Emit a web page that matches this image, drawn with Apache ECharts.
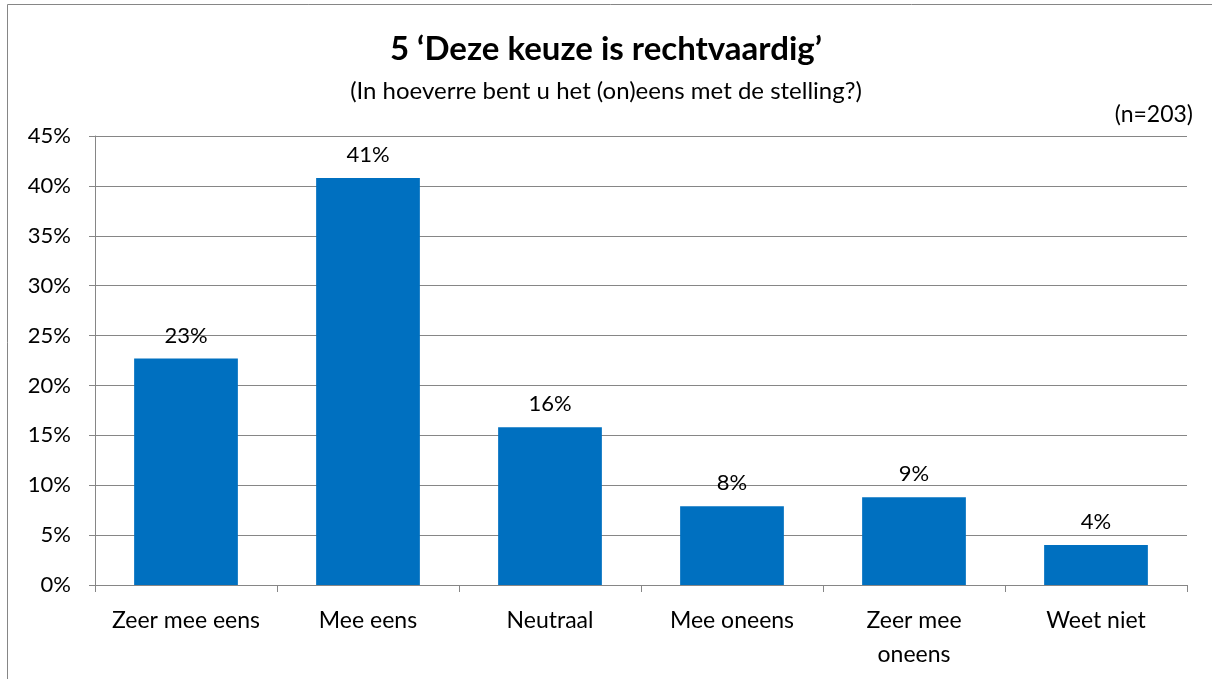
<!DOCTYPE html>
<html>
<head>
<meta charset="utf-8">
<script src="https://cdn.jsdelivr.net/npm/echarts@6/dist/echarts.min.js"></script>
<style>
  html, body { margin: 0; padding: 0; background: #fff; }
  #chart { width: 1212px; height: 679px; }
</style>
</head>
<body>
<div id="chart"></div>
<script>
var categories = ["Zeer mee eens", "Mee eens", "Neutraal", "Mee oneens", "Zeer mee\noneens", "Weet niet"];
var percentages = [22.7, 40.8, 15.8, 7.9, 8.8, 4.0];
var yTicks = [0, 5, 10, 15, 20, 25, 30, 35, 40, 45];

var fontName = "Lato, 'Open Sans', sans-serif";

var chart = echarts.init(document.getElementById("chart"));

chart.setOption({
    animation: false,
    backgroundColor: "#fff",
    textStyle: { fontFamily: fontName },
    title: [{
        text: "5 \u2018Deze keuze is rechtvaardig\u2019",
        left: "center",
        top: 28,
        textStyle: { fontSize: 33, fontWeight: "bold", color: "#000", fontFamily: fontName }
    }, {
        text: "(In hoeverre bent u het (on)eens met de stelling?)",
        left: "center",
        top: 74,
        textStyle: { fontSize: 24, fontWeight: "normal", color: "#000", fontFamily: fontName }
    }, {
        text: "(n=203)",
        right: 14,
        top: 98,
        textStyle: { fontSize: 23, fontWeight: "normal", color: "#000", fontFamily: fontName }
    }],
    graphic: [{
        type: "rect",
        shape: { x: 7.5, y: 4.5, width: 1220, height: 700 },
        style: { fill: "none", stroke: "#868686", lineWidth: 1 },
        silent: true
    }],
    grid: { left: 95, right: 25, top: 136, bottom: 94 },
    xAxis: {
        type: "category",
        data: categories,
        axisLine: { lineStyle: { color: "#868686", width: 1 } },
        axisTick: { show: true, alignWithLabel: false, length: 7, lineStyle: { color: "#868686" } },
        axisLabel: { color: "#000", fontSize: 23, margin: 19, lineHeight: 34, interval: 0 }
    },
    yAxis: {
        type: "value",
        min: 0,
        max: 45,
        interval: 5,
        axisLine: { show: true, lineStyle: { color: "#868686" } },
        axisTick: { show: true, length: 6, inside: false, lineStyle: { color: "#868686" } },
        splitLine: { lineStyle: { color: "#868686", width: 1 } },
        axisLabel: {
            color: "#000",
            fontSize: 22,
            margin: 24,
            formatter: function (v) { return yTicks.indexOf(v) >= 0 ? v + "%" : ""; }
        }
    },
    series: [{
        type: "bar",
        data: percentages,
        barWidth: "57%",
        itemStyle: { color: "#0070C0" },
        label: {
            show: true,
            position: "top",
            distance: 12,
            color: "#000",
            fontSize: 22,
            formatter: function (p) { return Math.round(p.value) + "%"; }
        }
    }]
});
</script>
</body>
</html>
